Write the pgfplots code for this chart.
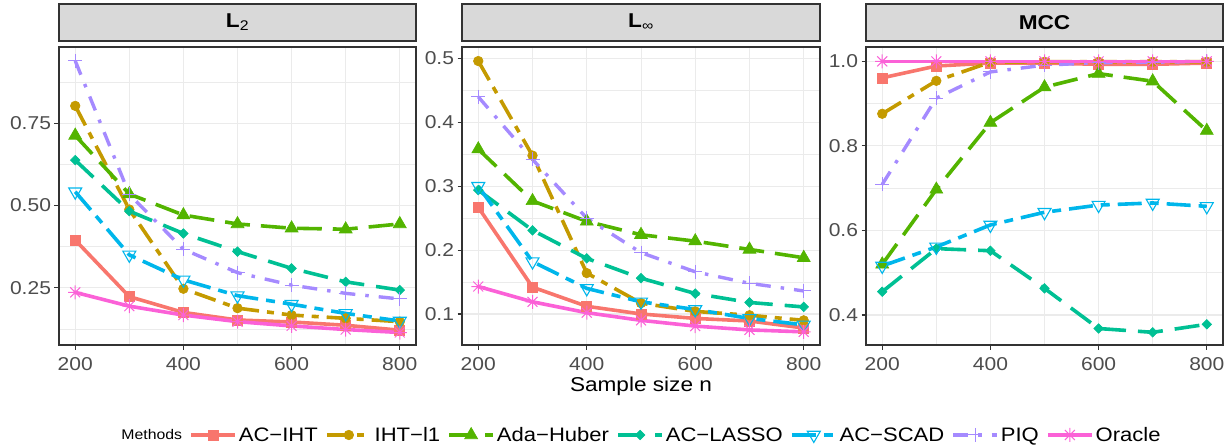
\documentclass[border=0pt]{standalone}
\usepackage{fontspec}
\setmainfont{Liberation Sans}[FakeStretch=1.13]
\usepackage{pgfplots}
\usepackage{pgfplotstable}
\pgfplotsset{compat=1.18}

\definecolor{cIHT}{HTML}{F8766D}
\definecolor{cLone}{HTML}{C49A00}
\definecolor{cHub}{HTML}{53B400}
\definecolor{cLas}{HTML}{00C094}
\definecolor{cSCAD}{HTML}{00B6EB}
\definecolor{cPIQ}{HTML}{A58AFF}
\definecolor{cOr}{HTML}{FB61D7}
\definecolor{gridg}{HTML}{EBEBEB}
\definecolor{grayA}{HTML}{333333}
\definecolor{grayB}{HTML}{4D4D4D}
\definecolor{stripg}{HTML}{D9D9D9}

\pgfdeclareplotmark{ggstar}{%
 \pgfpathmoveto{\pgfqpoint{-\pgfplotmarksize}{0pt}}\pgfpathlineto{\pgfqpoint{\pgfplotmarksize}{0pt}}%
 \pgfpathmoveto{\pgfqpoint{0pt}{-\pgfplotmarksize}}\pgfpathlineto{\pgfqpoint{0pt}{\pgfplotmarksize}}%
 \pgfpathmoveto{\pgfqpoint{-.707\pgfplotmarksize}{-.707\pgfplotmarksize}}\pgfpathlineto{\pgfqpoint{.707\pgfplotmarksize}{.707\pgfplotmarksize}}%
 \pgfpathmoveto{\pgfqpoint{-.707\pgfplotmarksize}{.707\pgfplotmarksize}}\pgfpathlineto{\pgfqpoint{.707\pgfplotmarksize}{-.707\pgfplotmarksize}}%
 \pgfusepathqstroke}

\pgfplotstableread{
n   IHT   Lone  Hub   Las   SCAD  PIQ   Or
200 0.395 0.803 0.713 0.638 0.542 0.940 0.236
300 0.223 0.488 0.535 0.483 0.350 0.534 0.194
400 0.175 0.247 0.471 0.415 0.274 0.367 0.167
500 0.152 0.188 0.444 0.360 0.226 0.296 0.147
600 0.146 0.167 0.431 0.309 0.200 0.258 0.134
700 0.136 0.157 0.428 0.268 0.172 0.233 0.123
800 0.121 0.147 0.444 0.243 0.149 0.216 0.114
}\tabLtwo

\pgfplotstableread{
n   IHT   Lone  Hub   Las   SCAD  PIQ   Or
200 0.267 0.496 0.358 0.294 0.300 0.440 0.143
300 0.142 0.348 0.277 0.231 0.182 0.342 0.119
400 0.112 0.164 0.245 0.187 0.140 0.250 0.102
500 0.100 0.117 0.224 0.156 0.119 0.196 0.090
600 0.093 0.104 0.214 0.132 0.107 0.166 0.081
700 0.089 0.098 0.201 0.118 0.093 0.148 0.075
800 0.078 0.090 0.188 0.111 0.083 0.136 0.072
}\tabLinf

\pgfplotstableread{
n   IHT   Lone  Hub   Las   SCAD  PIQ   Or
200 0.961 0.876 0.520 0.455 0.516 0.709 1.000
300 0.989 0.954 0.697 0.557 0.561 0.913 1.000
400 0.996 0.998 0.855 0.552 0.613 0.975 1.000
500 0.996 0.999 0.939 0.463 0.643 0.991 1.000
600 0.993 0.999 0.971 0.368 0.660 0.997 1.000
700 0.993 0.999 0.953 0.359 0.665 0.998 1.000
800 0.996 0.999 0.836 0.378 0.657 1.000 1.000
}\tabMCC

\pgfplotsset{
 sIHT/.style={color=cIHT, line width=3.6pt, solid, mark=square*, mark size=5pt, mark options={solid, line width=0.6pt}},
 sLone/.style={color=cLone, line width=3.6pt, dash pattern=on 22pt off 8pt on 7pt off 8pt, mark=*, mark size=4.8pt, mark options={solid, line width=0.6pt}},
 sHub/.style={color=cHub, line width=3.6pt, dash pattern=on 25pt off 11pt, mark=triangle*, mark size=7.5pt, mark options={solid, line width=0.6pt}},
 sLas/.style={color=cLas, line width=3.6pt, dash pattern=on 25pt off 12pt, mark=square*, mark size=3.4pt, mark options={solid, rotate=45, line width=0.6pt}},
 sSCAD/.style={color=cSCAD, line width=3.6pt, dash pattern=on 24pt off 8pt on 9pt off 8pt, mark=triangle, mark size=7.5pt, mark options={solid, rotate=180, line width=1.1pt}},
 sPIQ/.style={color=cPIQ, line width=3.4pt, dash pattern=on 15pt off 10pt on 3.5pt off 10pt, mark=+, mark size=7pt, mark options={solid, line width=1pt}},
 sOr/.style={color=cOr, line width=3.6pt, solid, mark=ggstar, mark size=7pt, mark options={solid, line width=1pt}},
 ggpanel/.style={
  scale only axis, height=298pt,
  xmin=170, xmax=830, xtick={200,400,600,800}, minor xtick={300,500,700},
  xticklabels={200,400,600,800},
  grid=both,
  major grid style={gridg, line width=1.1pt},
  minor grid style={gridg, line width=0.55pt},
  axis line style={grayA, line width=1.1pt},
  major tick style={grayA, line width=1.1pt}, major tick length=4.5pt, minor tick length=0pt,
  tick align=outside, xtick pos=left, ytick pos=left,
  ticklabel style={font=\fontsize{18.6}{19}\selectfont, text=grayB},
  xticklabel style={yshift=-4pt},
  /pgf/number format/assume math mode=true,
  title style={at={(0.5,1)}, anchor=south, minimum height=37pt, fill=stripg, draw=grayA, line width=1.1pt, outer sep=0pt, inner sep=0pt, font=\fontsize{20}{20}\selectfont\bfseries},
  clip=false,
 },
}

\begin{document}
\begin{tikzpicture}
% Panel 1: L2
\begin{axis}[ggpanel, width=357pt, at={(59pt,100pt)}, anchor=south west,
  title style={minimum width=357pt},
  title={L\textsubscript{\mdseries 2}},
  ymin=0.076, ymax=0.982,
  ytick={0.25,0.5,0.75}, yticklabels={0.25,0.50,0.75},
  minor ytick={0.125,0.375,0.625,0.875}]
\addplot[sIHT] table[x=n,y=IHT] {\tabLtwo};
\addplot[sLone] table[x=n,y=Lone] {\tabLtwo};
\addplot[sHub] table[x=n,y=Hub] {\tabLtwo};
\addplot[sLas] table[x=n,y=Las] {\tabLtwo};
\addplot[sSCAD] table[x=n,y=SCAD] {\tabLtwo};
\addplot[sPIQ] table[x=n,y=PIQ] {\tabLtwo};
\addplot[sOr] table[x=n,y=Or] {\tabLtwo};
\end{axis}

% Panel 2: Linf
\begin{axis}[ggpanel, width=358pt, at={(462pt,100pt)}, anchor=south west,
  title style={minimum width=358pt},
  title={L\textsubscript{\mdseries ∞}},
  ymin=0.0514, ymax=0.518,
  ytick={0.1,0.2,0.3,0.4,0.5}, yticklabels={0.1,0.2,0.3,0.4,0.5},
  minor ytick={0.15,0.25,0.35,0.45},
  xlabel={Sample size n},
  xlabel style={at={(axis description cs:0.5,-0.138)}, anchor=center, font=\fontsize{20}{20}\selectfont},
  legend columns=8,
  legend image code/.code={\draw[mark repeat=2,mark phase=2] plot coordinates {(0pt,0pt)(22pt,0pt)(44pt,0pt)};},
  legend style={at={(0.5,-0.302)}, anchor=center, draw=none, fill=none,
    font=\fontsize{19.5}{20}\selectfont, inner sep=0pt,
    /tikz/every even column/.append style={column sep=5.2pt}},
  ]
\addlegendimage{empty legend}
\addplot[sIHT] table[x=n,y=IHT] {\tabLinf};
\addplot[sLone] table[x=n,y=Lone] {\tabLinf};
\addplot[sHub] table[x=n,y=Hub] {\tabLinf};
\addplot[sLas] table[x=n,y=Las] {\tabLinf};
\addplot[sSCAD] table[x=n,y=SCAD] {\tabLinf};
\addplot[sPIQ] table[x=n,y=PIQ] {\tabLinf};
\addplot[sOr] table[x=n,y=Or] {\tabLinf};
\legend{{\fontsize{14}{14}\selectfont Methods},AC−IHT,IHT−l1,Ada−Huber,AC−LASSO,AC−SCAD,PIQ,Oracle}
\end{axis}

% Panel 3: MCC
\begin{axis}[ggpanel, width=357pt, at={(866pt,100pt)}, anchor=south west,
  title style={minimum width=357pt},
  title={MCC},
  ymin=0.329, ymax=1.034,
  ytick={0.4,0.6,0.8,1.0}, yticklabels={0.4,0.6,0.8,1.0},
  minor ytick={0.5,0.7,0.9}]
\addplot[sIHT] table[x=n,y=IHT] {\tabMCC};
\addplot[sLone] table[x=n,y=Lone] {\tabMCC};
\addplot[sHub] table[x=n,y=Hub] {\tabMCC};
\addplot[sLas] table[x=n,y=Las] {\tabMCC};
\addplot[sSCAD] table[x=n,y=SCAD] {\tabMCC};
\addplot[sPIQ] table[x=n,y=PIQ] {\tabMCC};
\addplot[sOr] table[x=n,y=Or] {\tabMCC};
\end{axis}
\pgfresetboundingbox
\path (0,0) rectangle (1229pt,445pt);
\end{tikzpicture}
\end{document}
